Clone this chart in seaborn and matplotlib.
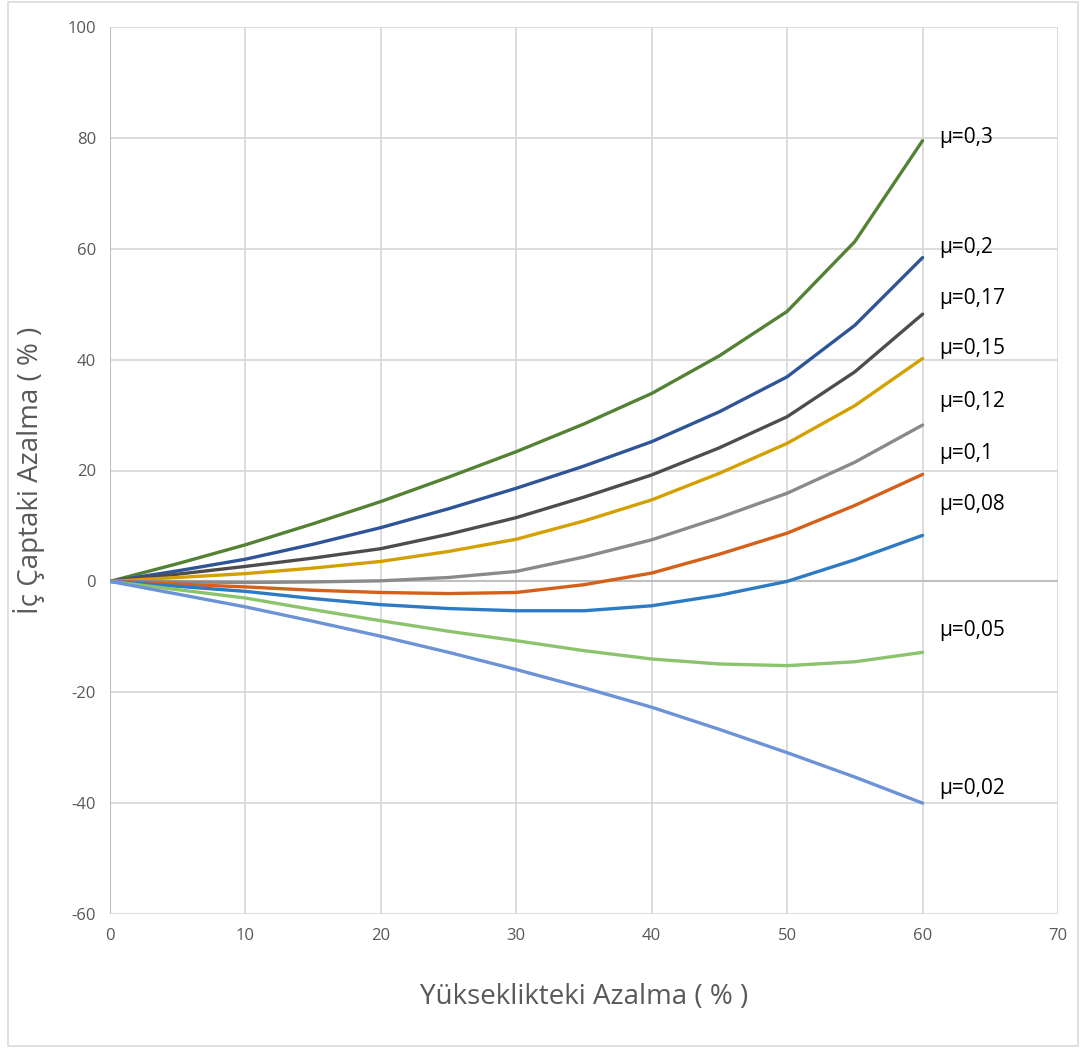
import numpy as np
import pandas as pd
import matplotlib
matplotlib.use("Agg")
import matplotlib.pyplot as plt
import seaborn as sns
from matplotlib.patches import Rectangle

# Height reduction (%) sampled every 5 %
height_reduction = [0, 5, 10, 15, 20, 25, 30, 35, 40, 45, 50, 55, 60]

# Inner-diameter reduction (%) for each friction coefficient
mu_03 = [0, 3.2, 6.6, 10.4, 14.4, 18.8, 23.4, 28.4, 33.9, 40.7, 48.7, 61.3, 79.5]
mu_02 = [0, 1.9, 4.0, 6.7, 9.7, 13.1, 16.8, 20.8, 25.2, 30.6, 36.9, 46.2, 58.4]
mu_017 = [0, 1.3, 2.7, 4.2, 5.9, 8.5, 11.5, 15.2, 19.2, 24.1, 29.7, 37.8, 48.2]
mu_015 = [0, 0.7, 1.4, 2.4, 3.6, 5.4, 7.6, 10.9, 14.7, 19.5, 24.9, 31.7, 40.2]
mu_012 = [0, -0.1, -0.2, -0.1, 0.1, 0.7, 1.8, 4.4, 7.5, 11.5, 15.9, 21.5, 28.2]
mu_01 = [0, -0.5, -1.0, -1.6, -2.0, -2.2, -2.0, -0.6, 1.5, 4.9, 8.7, 13.7, 19.3]
mu_008 = [0, -0.9, -1.8, -3.1, -4.2, -4.9, -5.3, -5.3, -4.4, -2.5, 0.0, 3.9, 8.3]
mu_005 = [0, -1.5, -3.0, -5.1, -7.1, -9.0, -10.7, -12.5, -14.0, -14.9, -15.2, -14.5, -12.8]
mu_002 = [0, -2.3, -4.6, -7.2, -9.9, -12.8, -15.9, -19.2, -22.7, -26.7, -30.9, -35.3, -40.0]

series_names = ["μ=0,3", "μ=0,2", "μ=0,17", "μ=0,15", "μ=0,12",
                "μ=0,1", "μ=0,08", "μ=0,05", "μ=0,02"]
series_values = [mu_03, mu_02, mu_017, mu_015, mu_012, mu_01, mu_008, mu_005, mu_002]

x_ticks = [0, 10, 20, 30, 40, 50, 60, 70]
y_ticks = [-60, -40, -20, 0, 20, 40, 60, 80, 100]

colors = ["#548235", "#2F5597", "#4D4D4D", "#D4A000", "#8A8A8A",
          "#D4601A", "#2E7BC4", "#8CC46E", "#6C93D6"]
# vertical nudge (data units) of each end label above its line end
label_nudge = [0.5, 1.9, 2.8, 1.8, 4.3, 3.7, 5.5, 4.0, 2.7]

rows = []
for name, vals in zip(series_names, series_values):
    for x, y in zip(height_reduction, vals):
        rows.append({"x": x, "y": y, "mu": name})
df = pd.DataFrame(rows)

sns.set_theme(style="white")
plt.rcParams["font.family"] = ["Open Sans", "DejaVu Sans"]
plt.rcParams["axes.unicode_minus"] = False

fig = plt.figure(figsize=(10.86, 10.52), dpi=100)
ax = fig.add_axes([110 / 1086, 1 - 914 / 1052, (1058 - 110) / 1086, (914 - 27) / 1052])

ax.set_xlim(0, 70)
ax.set_ylim(-60, 100)
ax.set_xticks(x_ticks)
ax.set_yticks(y_ticks)
ax.grid(True, color="#D9D9D9", linewidth=1.3)
ax.set_axisbelow(True)
for s in ax.spines.values():
    s.set_visible(False)
ax.axhline(0, color="#BFBFBF", linewidth=1.5, zorder=1)
ax.axvline(0, color="#BFBFBF", linewidth=1.5, zorder=1)

sns.lineplot(data=df, x="x", y="y", hue="mu", hue_order=series_names,
             palette=colors, linewidth=2.4, sort=False, legend=False, ax=ax)
for line in ax.get_lines():
    line.set_solid_joinstyle("round")

for name, vals, nudge in zip(series_names, series_values, label_nudge):
    ax.text(height_reduction[-1] + 1.2, vals[-1] + nudge, name,
            fontsize=15, color="black", va="center", ha="left")

ax.tick_params(axis="both", length=0, labelsize=12, labelcolor="#595959", pad=10)
ax.set_xlabel("Yükseklikteki Azalma ( % )", fontsize=20, color="#595959", labelpad=28)
ax.set_ylabel("İç Çaptaki Azalma ( % )", fontsize=20, color="#595959", labelpad=16)

fig.patches.append(Rectangle((8 / 1086, 6 / 1052), 1070 / 1086, 1044 / 1052,
                             transform=fig.transFigure, fill=False,
                             edgecolor="#D9D9D9", linewidth=1.2))

fig.savefig("out.png", dpi=100)
